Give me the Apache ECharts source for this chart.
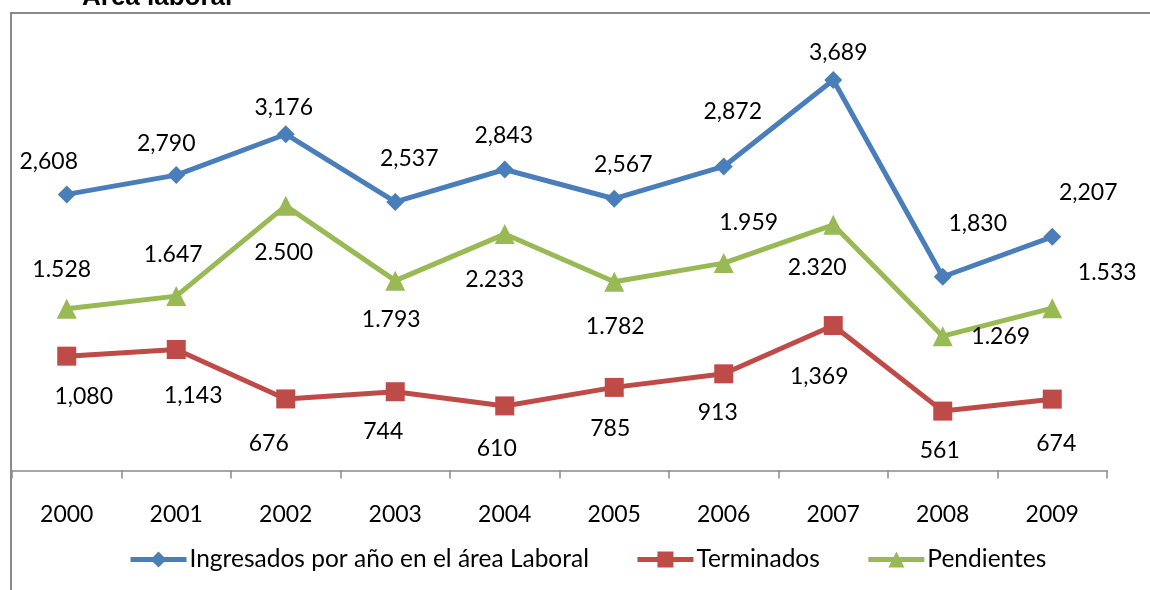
<!DOCTYPE html>
<html>
<head>
<meta charset="utf-8">
<script src="https://cdn.jsdelivr.net/npm/echarts@6/dist/echarts.min.js"></script>
<style>
  html, body { margin: 0; padding: 0; background: #fff; }
  #chart { width: 1150px; height: 590px; }
</style>
</head>
<body>
<div id="chart"></div>
<script>
// datos
const years = ["2000", "2001", "2002", "2003", "2004", "2005", "2006", "2007", "2008", "2009"];
const ingresados = [2608, 2790, 3176, 2537, 2843, 2567, 2872, 3689, 1830, 2207];
const terminados = [1080, 1143, 676, 744, 610, 785, 913, 1369, 561, 674];
const pendientes = [1528, 1647, 2500, 1793, 2233, 1782, 1959, 2320, 1269, 1533];

// posicion de las etiquetas respecto al punto (dx, dy)
const offIngresados = [[-18, -33], [-10, -32], [-2, -27], [14, -43], [-1, -34], [9, -34], [9, -55], [5, -27], [35, -53], [36, -44]];
const offTerminados = [[17, 40], [17, 46], [-17, 45], [-12, 40], [-8, 43], [-4, 41], [-6, 39], [-14, 51], [-3, 39], [4, 44]];
const offPendientes = [[-5, -39], [-3, -42], [-2, 47], [-4, 39], [-10, 45], [1, 45], [25, -41], [-16, 43], [58, 0], [55, -36]];

const font = "Lato, 'Noto Sans', sans-serif";

function fmt(v, sep) {
  return String(v).replace(/\B(?=(\d{3})+(?!\d))/g, sep);
}

function makeSeries(name, values, offsets, color, symbol, size, sep) {
  return {
    name: name,
    type: "line",
    data: values.map((v, i) => ({
      value: v,
      label: { offset: offsets[i] },
    })),
    symbol: symbol,
    symbolSize: size,
    color: color,
    lineStyle: { color: color, width: 5 },
    itemStyle: { color: color },
    label: {
      show: true,
      position: "inside",
      color: "#000",
      fontFamily: font,
      fontSize: 23,
      formatter: (p) => fmt(p.value, sep),
    },
    animation: false,
  };
}

const chart = echarts.init(document.getElementById("chart"));
chart.setOption({
  backgroundColor: "#fff",
  animation: false,
  graphic: [
    {
      type: "rect",
      shape: { x: 11, y: 13, width: 1300, height: 800 },
      style: { fill: "none", stroke: "#8a8a8a", lineWidth: 2 },
      silent: true,
    },
    {
      type: "text",
      left: 82,
      top: -15,
      style: {
        text: "Área laboral",
        font: "bold 26px 'Liberation Sans', Arial, sans-serif",
        fill: "#000",
      },
    },
  ],
  grid: { left: 12, right: 43, top: 47, bottom: 119.5 },
  legend: {
    left: 123,
    top: 542,
    itemWidth: 56,
    itemHeight: 20,
    itemGap: 46,
    lineStyle: { width: 5 },
    textStyle: { fontFamily: font, fontSize: 24.5, color: "#000", padding: [0, 0, 0, -2] },
    data: ["Ingresados por año en el área Laboral", "Terminados", "Pendientes"],
  },
  xAxis: {
    type: "category",
    data: years,
    boundaryGap: true,
    axisLine: { show: true, lineStyle: { color: "#8a8a8a", width: 1.5 } },
    axisTick: { show: true, length: 8, lineStyle: { color: "#8a8a8a", width: 1.5 } },
    axisLabel: { color: "#000", fontFamily: font, fontSize: 23, margin: 33 },
    splitLine: { show: false },
  },
  yAxis: {
    type: "value",
    min: 0,
    max: 4000,
    show: false,
  },
  series: [
    makeSeries("Ingresados por año en el área Laboral", ingresados, offIngresados, "#4A7EBB", "diamond", 18, ","),
    makeSeries("Terminados", terminados, offTerminados, "#BE4B48", "rect", 19, ","),
    makeSeries("Pendientes", pendientes, offPendientes, "#98B954", "triangle", 20, "."),
  ],
});
</script>
</body>
</html>
